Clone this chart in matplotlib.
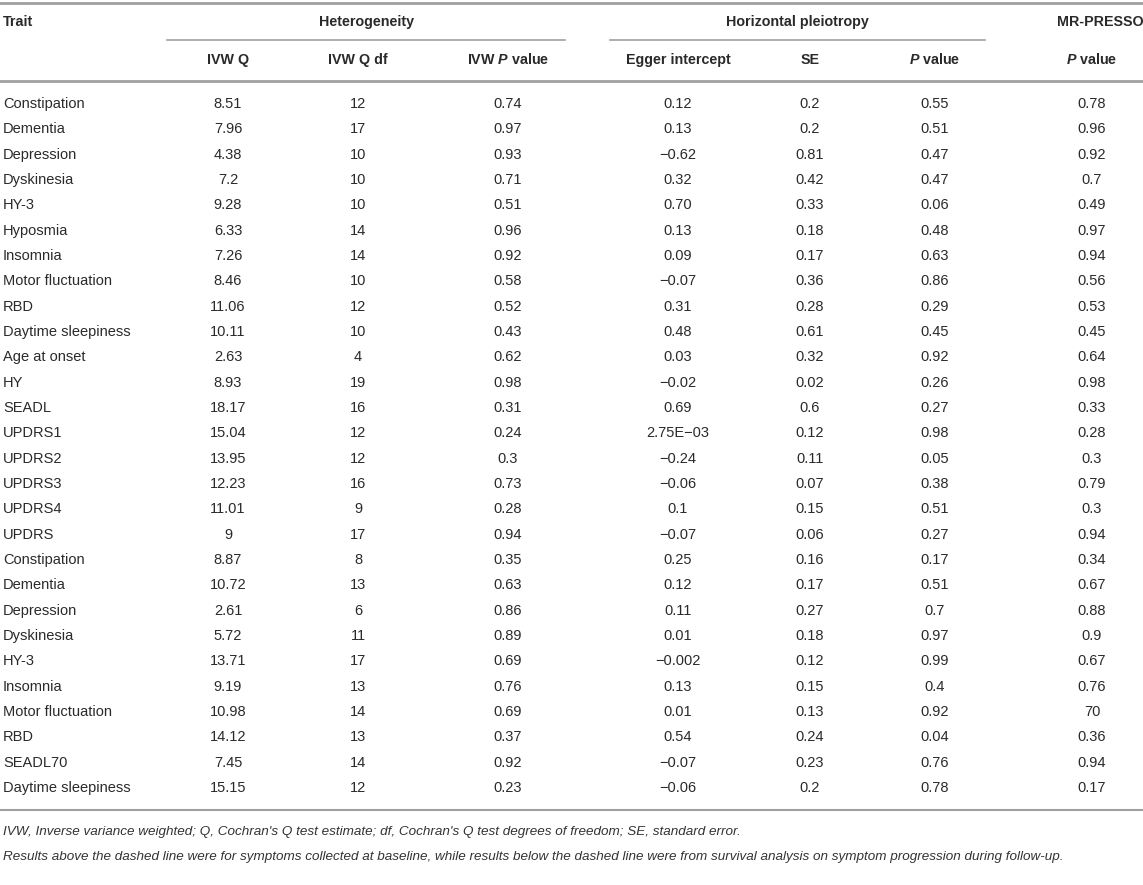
import matplotlib
matplotlib.use("Agg")
import matplotlib.pyplot as plt

plt.rcParams['font.family'] = ['Liberation Sans', 'DejaVu Sans']
plt.rcParams['mathtext.fontset'] = 'custom'
plt.rcParams['mathtext.bfit'] = 'Liberation Sans:italic:bold'

traits = ["Constipation", "Dementia", "Depression", "Dyskinesia", "HY-3", "Hyposmia",
          "Insomnia", "Motor fluctuation", "RBD", "Daytime sleepiness", "Age at onset",
          "HY", "SEADL", "UPDRS1", "UPDRS2", "UPDRS3", "UPDRS4", "UPDRS",
          "Constipation", "Dementia", "Depression", "Dyskinesia", "HY-3", "Insomnia",
          "Motor fluctuation", "RBD", "SEADL70", "Daytime sleepiness"]
ivw_q = ["8.51", "7.96", "4.38", "7.2", "9.28", "6.33", "7.26", "8.46", "11.06", "10.11",
         "2.63", "8.93", "18.17", "15.04", "13.95", "12.23", "11.01", "9", "8.87", "10.72",
         "2.61", "5.72", "13.71", "9.19", "10.98", "14.12", "7.45", "15.15"]
ivw_df = ["12", "17", "10", "10", "10", "14", "14", "10", "12", "10", "4", "19", "16", "12",
          "12", "16", "9", "17", "8", "13", "6", "11", "17", "13", "14", "13", "14", "12"]
ivw_p = ["0.74", "0.97", "0.93", "0.71", "0.51", "0.96", "0.92", "0.58", "0.52", "0.43",
         "0.62", "0.98", "0.31", "0.24", "0.3", "0.73", "0.28", "0.94", "0.35", "0.63",
         "0.86", "0.89", "0.69", "0.76", "0.69", "0.37", "0.92", "0.23"]
egger = ["0.12", "0.13", "\u22120.62", "0.32", "0.70", "0.13", "0.09", "\u22120.07", "0.31",
         "0.48", "0.03", "\u22120.02", "0.69", "2.75E\u221203", "\u22120.24", "\u22120.06", "0.1",
         "\u22120.07", "0.25", "0.12", "0.11", "0.01", "\u22120.002", "0.13", "0.01", "0.54",
         "\u22120.07", "\u22120.06"]
egger_se = ["0.2", "0.2", "0.81", "0.42", "0.33", "0.18", "0.17", "0.36", "0.28", "0.61",
            "0.32", "0.02", "0.6", "0.12", "0.11", "0.07", "0.15", "0.06", "0.16", "0.17",
            "0.27", "0.18", "0.12", "0.15", "0.13", "0.24", "0.23", "0.2"]
egger_p = ["0.55", "0.51", "0.47", "0.47", "0.06", "0.48", "0.63", "0.86", "0.29", "0.45",
           "0.92", "0.26", "0.27", "0.98", "0.05", "0.38", "0.51", "0.27", "0.17", "0.51",
           "0.7", "0.97", "0.99", "0.4", "0.92", "0.04", "0.76", "0.78"]
presso_p = ["0.78", "0.96", "0.92", "0.7", "0.49", "0.97", "0.94", "0.56", "0.53", "0.45",
            "0.64", "0.98", "0.33", "0.28", "0.3", "0.79", "0.3", "0.94", "0.34", "0.67",
            "0.88", "0.9", "0.67", "0.76", "70", "0.36", "0.94", "0.17"]

footnotes = [
    "IVW, Inverse variance weighted; Q, Cochran's Q test estimate; df, Cochran's Q test "
    "degrees of freedom; SE, standard error.",
    "Results above the dashed line were for symptoms collected at baseline, while results "
    "below the dashed line were from survival analysis on symptom progression during follow-up.",
]

W, H = 1143, 885
fig = plt.figure(figsize=(W / 100, H / 100), dpi=100)
ax = fig.add_axes([0, 0, 1, 1])
ax.set_xlim(0, W)
ax.set_ylim(H, 0)
ax.axis("off")

txt = "#2a2a2a"
line_c = "#a0a0a0"
fs = 10.5
hfs = 10.3

# rules
ax.plot([0, W], [3, 3], color=line_c, lw=2)
ax.plot([0, W], [81, 81], color=line_c, lw=2)
ax.plot([0, W], [810, 810], color=line_c, lw=1.5)
ax.plot([167, 565], [40, 40], color=line_c, lw=1.2)
ax.plot([610, 985], [40, 40], color=line_c, lw=1.2)

# group headers
ax.text(3, 22, "Trait", fontsize=hfs, fontweight="bold", color=txt, va="center", ha="left")
ax.text(366, 22, "Heterogeneity", fontsize=hfs, fontweight="bold", color=txt, va="center", ha="center")
ax.text(797, 22, "Horizontal pleiotropy", fontsize=hfs, fontweight="bold", color=txt, va="center", ha="center")
ax.text(1100, 22, "MR-PRESSO", fontsize=hfs, fontweight="bold", color=txt, va="center", ha="center")

col_x = [228, 358, 508, 678, 810, 935, 1092]
sub_heads = ["IVW Q", "IVW Q df", r"IVW $\bfit{P}$ value", "Egger intercept", "SE",
             r"$\bfit{P}$ value", r"$\bfit{P}$ value"]
for x, h in zip(col_x, sub_heads):
    ax.text(x, 60, h, fontsize=hfs, fontweight="bold", color=txt, va="center", ha="center")

cols = [ivw_q, ivw_df, ivw_p, egger, egger_se, egger_p, presso_p]
y0, dy = 104, 25.33
for i, t in enumerate(traits):
    y = y0 + i * dy
    ax.text(3, y, t, fontsize=fs, color=txt, va="center", ha="left")
    for x, c in zip(col_x, cols):
        ax.text(x, y, c[i], fontsize=fs, color=txt, va="center", ha="center")

ax.text(3, 832, footnotes[0], fontsize=9.7, style="italic", color="#333333", va="center", ha="left")
ax.text(3, 857, footnotes[1], fontsize=9.7, style="italic", color="#333333", va="center", ha="left")

fig.savefig("out.png", dpi=100)
